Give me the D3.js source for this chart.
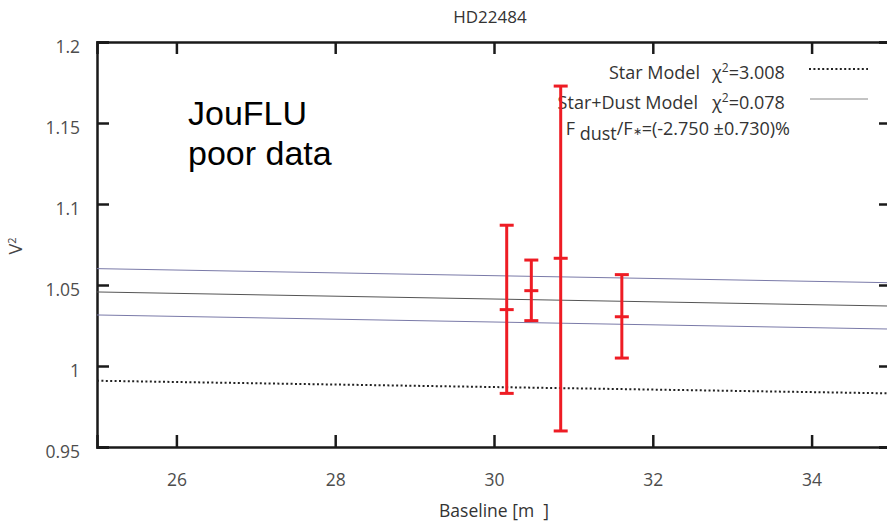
<!DOCTYPE html>
<html>
<head>
<meta charset="utf-8">
<script src="https://cdn.jsdelivr.net/npm/d3@7"></script>
<style>
  body { margin: 0; background: #fff; overflow: hidden; }
  text { font-family: "Open Sans", Lato, sans-serif; }
</style>
</head>
<body>
<div id="chart"></div>
<script>
"use strict";
// baseline [m], mean V2, upper and lower end of the error bar
var baselines = [30.16, 30.47, 30.84, 31.61];
var v2Mean = [1.0348, 1.0465, 1.0665, 1.0304];
var v2Hi = [1.0869, 1.0654, 1.1728, 1.0564];
var v2Lo = [0.9831, 1.0280, 0.9599, 1.0049];

// model lines, value at baseline 25 and 35
var modelX = [25, 35];
var starModel = [0.9909, 0.9831];
var dustModel = [1.0457, 1.0370];
var dustUpper = [1.0601, 1.0514];
var dustLower = [1.0315, 1.0228];

var xTicks = [26, 28, 30, 32, 34];
var xTickLabels = ["26", "28", "30", "32", "34"];
var yTicks = [0.95, 1.0, 1.05, 1.1, 1.15, 1.2];
var yTickLabels = ["0.95", "1", "1.05", "1.1", "1.15", "1.2"];

var width = 887, height = 523;
var svg = d3.select("#chart").append("svg")
    .attr("width", width).attr("height", height);

var x = d3.scaleLinear().domain([25, 35]).range([97, 891]);
var y = d3.scaleLinear().domain([0.95, 1.2]).range([447, 42]);

//axes with inward ticks on all four sides
var gx = svg.append("g").attr("transform", `translate(0,${y(0.95)})`)
    .call(d3.axisBottom(x).tickValues(xTicks).tickSize(-12).tickPadding(27)
        .tickFormat((d, i) => xTickLabels[i]));
var gy = svg.append("g").attr("transform", `translate(${x(25)},0)`)
    .call(d3.axisLeft(y).tickValues(yTicks).tickSize(-12).tickPadding(17)
        .tickFormat((d, i) => yTickLabels[i]));
svg.append("g").attr("transform", `translate(0,${y(1.2)})`)
    .call(d3.axisTop(x).tickValues(xTicks).tickSize(-12).tickFormat(""));
svg.append("g").attr("transform", `translate(${x(35)},0)`)
    .call(d3.axisRight(y).tickValues(yTicks).tickSize(-12).tickFormat(""));

svg.selectAll(".domain").attr("stroke", "#1a1a1a").attr("stroke-width", 2.5);
svg.selectAll(".tick line").attr("stroke", "#1a1a1a").attr("stroke-width", 2.5);
svg.selectAll(".tick text").attr("fill", "#4d4d4d").attr("font-size", 17.5);
gy.selectAll(".tick text").attr("y", 5);

// model lines
var line = d3.line().x((d, i) => x(modelX[i])).y(d => y(d));
svg.append("path").datum(dustUpper).attr("d", line)
    .attr("fill", "none").attr("stroke", "#7a7aa8").attr("stroke-width", 1);
svg.append("path").datum(dustModel).attr("d", line)
    .attr("fill", "none").attr("stroke", "#555").attr("stroke-width", 1);
svg.append("path").datum(dustLower).attr("d", line)
    .attr("fill", "none").attr("stroke", "#7a7aa8").attr("stroke-width", 1);
svg.append("path").datum(starModel).attr("d", line)
    .attr("fill", "none").attr("stroke", "#222").attr("stroke-width", 2)
    .attr("stroke-dasharray", "2,2.4");

// legend
var leg = svg.append("g").attr("font-size", 18).attr("fill", "#333");
leg.append("text").attr("x", 700).attr("y", 79).attr("text-anchor", "end").text("Star Model");
leg.append("text").attr("x", 712).attr("y", 79)
    .html('χ<tspan dy="-7" font-size="12">2</tspan><tspan dy="7">=3.008</tspan>');
leg.append("text").attr("x", 698).attr("y", 109).attr("text-anchor", "end").text("Star+Dust Model");
leg.append("text").attr("x", 712).attr("y", 109)
    .html('χ<tspan dy="-7" font-size="12">2</tspan><tspan dy="7">=0.078</tspan>');
leg.append("text").attr("x", 790).attr("y", 135).attr("text-anchor", "end")
    .html('F<tspan dy="5"> dust</tspan><tspan dy="-5">/F</tspan><tspan font-size="11">∗</tspan>=(-2.750 ±0.730)%');
leg.append("line").attr("x1", 809).attr("x2", 868).attr("y1", 69).attr("y2", 69)
    .attr("stroke", "#222").attr("stroke-width", 2).attr("stroke-dasharray", "2,2.4");
leg.append("line").attr("x1", 810).attr("x2", 868).attr("y1", 99).attr("y2", 99)
    .attr("stroke", "#888").attr("stroke-width", 1);

// error bars
var bars = svg.selectAll(".err").data(baselines).enter().append("g").attr("class", "err")
    .attr("stroke", "#ee1c24").attr("stroke-width", 3);
bars.append("line").attr("x1", d => x(d)).attr("x2", d => x(d))
    .attr("y1", (d, i) => y(v2Hi[i])).attr("y2", (d, i) => y(v2Lo[i]));
[v2Hi, v2Mean, v2Lo].forEach(function (arr) {
    bars.append("line").attr("x1", d => x(d) - 7).attr("x2", d => x(d) + 7)
        .attr("y1", (d, i) => y(arr[i])).attr("y2", (d, i) => y(arr[i]));
});

// titles
svg.append("text").attr("x", 490).attr("y", 23).attr("text-anchor", "middle")
    .attr("font-size", 17).attr("fill", "#333").text("HD22484");
svg.append("text").attr("x", 494).attr("y", 517).attr("text-anchor", "middle")
    .attr("font-size", 17.5).attr("fill", "#333").attr("xml:space", "preserve").text("Baseline [m  ]");
svg.append("text").attr("transform", "translate(22,246) rotate(-90)").attr("text-anchor", "middle")
    .attr("font-size", 18).attr("fill", "#444")
    .html('V<tspan dy="-6" font-size="11">2</tspan>');

var note = svg.append("text").style("font-family", "'Liberation Sans', Arial, sans-serif")
    .attr("font-size", 34).attr("fill", "#000");
note.append("tspan").attr("x", 188).attr("y", 125).text("JouFLU");
note.append("tspan").attr("x", 188).attr("y", 165).text("poor data");
</script>
</body>
</html>
